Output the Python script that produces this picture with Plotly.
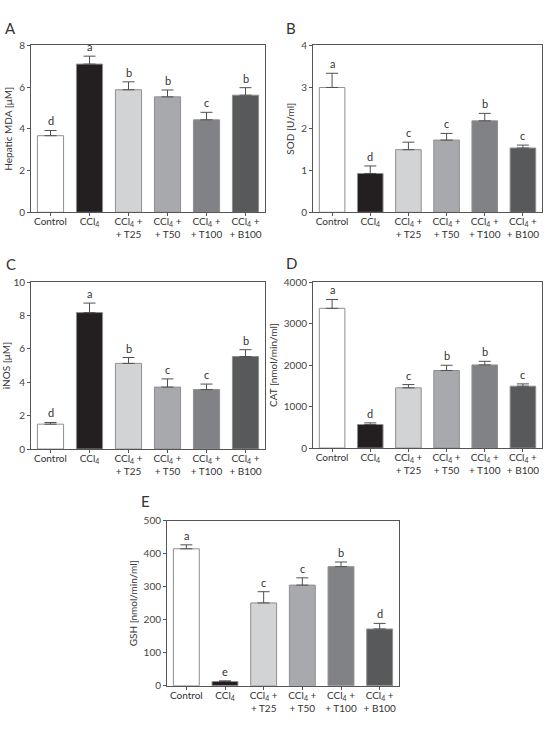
import plotly.graph_objects as go

W, H = 548, 735

categories = ["Control", "CCl<sub>4</sub>", "CCl<sub>4</sub> +<br>+ T25", "CCl<sub>4</sub> +<br>+ T50",
              "CCl<sub>4</sub> +<br>+ T100", "CCl<sub>4</sub> +<br>+ B100"]
bar_colors = ["#ffffff", "#231f20", "#d1d3d4", "#a7a9ac", "#808285", "#58595b"]

mda_mean = [3.67, 7.10, 5.87, 5.53, 4.43, 5.61]
mda_err = [0.25, 0.38, 0.38, 0.33, 0.36, 0.36]
mda_sig = ["d", "a", "b", "b", "c", "b"]

sod_mean = [2.99, 0.93, 1.50, 1.73, 2.19, 1.54]
sod_err = [0.34, 0.18, 0.18, 0.16, 0.18, 0.07]
sod_sig = ["a", "d", "c", "c", "b", "c"]

inos_mean = [1.49, 8.17, 5.13, 3.71, 3.56, 5.54]
inos_err = [0.10, 0.57, 0.35, 0.49, 0.33, 0.41]
inos_sig = ["d", "a", "b", "c", "c", "b"]

cat_mean = [3367, 568, 1451, 1869, 2003, 1490]
cat_err = [213, 39, 79, 126, 87, 56]
cat_sig = ["a", "d", "c", "b", "b", "c"]

gsh_mean = [415, 13, 251, 305, 361, 172]
gsh_err = [12, 2, 34, 22, 14, 17]
gsh_sig = ["a", "e", "c", "c", "b", "d"]

panels = [
    # letter, mean, err, sig, ytitle, yrange, dtick, x px range, y px range, letter pos
    ("A", mda_mean, mda_err, mda_sig, "Hepatic MDA [μM]", 8, 2, (31, 265), (39, 209), (10.5, 21)),
    ("B", sod_mean, sod_err, sod_sig, "SOD [U/ml]", 4, 1, (313, 542), (39, 209), (291, 21)),
    ("C", inos_mean, inos_err, inos_sig, "iNOS [μM]", 10, 2, (31, 265), (280, 450), (11, 262)),
    ("D", cat_mean, cat_err, cat_sig, "CAT [nmol/min/ml]", 4000, 1000, (313, 542), (280, 449), (291, 261)),
    ("E", gsh_mean, gsh_err, gsh_sig, "GSH [nmol/min/ml]", 500, 100, (167, 399), (523, 691), (145, 503)),
]

FONT = "Lato"
fig = go.Figure()
annotations = []
layout = {}
xs = list(range(len(categories)))
for i, (letter, mean, err, sig, ytitle, ymax, dtick, xr, yr, lp) in enumerate(panels):
    n = "" if i == 0 else str(i + 1)
    xa, ya = "x" + n, "y" + n
    fig.add_trace(go.Bar(
        x=xs, y=mean, width=0.67,
        marker=dict(color=bar_colors, line=dict(color="#8f8f8f", width=1)),
        error_y=dict(type="data", array=err, arrayminus=[0] * len(err), symmetric=False,
                     color="#505050", thickness=1, width=6),
        xaxis=xa, yaxis=ya, showlegend=False, hoverinfo="skip",
    ))
    layout["xaxis" + n] = dict(
        domain=[xr[0] / W, xr[1] / W], anchor=ya, range=[-0.5, 5.5],
        tickvals=xs, ticktext=categories, ticks="outside", ticklen=3, tickcolor="#555",
        showline=True, linecolor="#555", linewidth=1, mirror=True, showgrid=False,
        zeroline=False, tickfont=dict(family=FONT, size=10, color="#333"), tickangle=0,
        ticklabelstandoff=-3,
    )
    layout["yaxis" + n] = dict(
        domain=[1 - yr[1] / H, 1 - yr[0] / H], anchor=xa, range=[0, ymax], dtick=dtick,
        ticks="outside", ticklen=3, tickcolor="#555",
        showline=True, linecolor="#555", linewidth=1, mirror=True, showgrid=False,
        zeroline=False, tickfont=dict(family=FONT, size=10, color="#444"),
        title=dict(text=ytitle, font=dict(family=FONT, size=10, color="#333"), standoff=4),
    )
    for j in xs:
        annotations.append(dict(
            x=j, y=mean[j] + err[j], xref=xa, yref=ya, text=sig[j], showarrow=False,
            yanchor="bottom", yshift=1, font=dict(family=FONT, size=11, color="#333"),
        ))
    annotations.append(dict(
        x=lp[0] / W, y=1 - lp[1] / H, xref="paper", yref="paper", text=letter,
        showarrow=False, xanchor="center", yanchor="middle",
        font=dict(family=FONT, size=15, color="#333"),
    ))

fig.update_layout(
    width=W, height=H, margin=dict(l=0, r=0, t=0, b=0),
    paper_bgcolor="white", plot_bgcolor="white", bargap=0.33,
    annotations=annotations, **layout,
)
fig.write_html("out.html", config={"displayModeBar": False},
               post_script="document.body.style.margin='0';document.body.style.overflow='hidden';")
